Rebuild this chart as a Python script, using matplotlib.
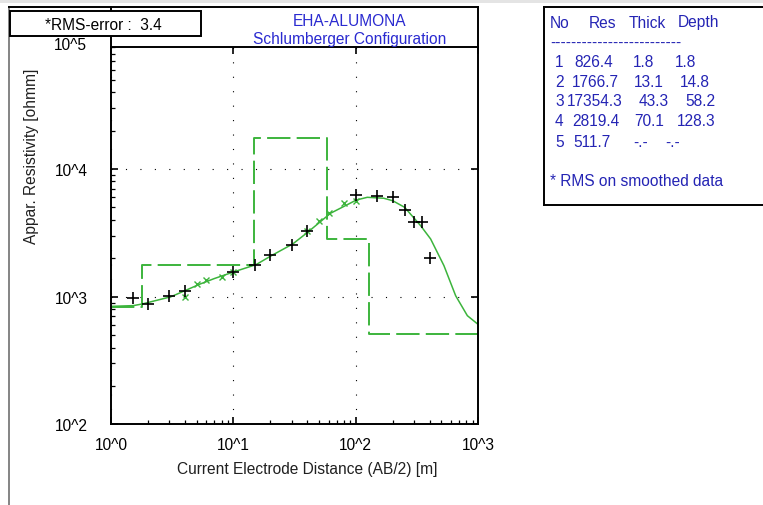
import numpy as np
import matplotlib.pyplot as plt
from matplotlib.lines import Line2D
from matplotlib.patches import Rectangle

plt.rcParams['font.family'] = ['Liberation Sans', 'DejaVu Sans']

W, H = 763, 506
FS = 11.2

# field data (AB/2, apparent resistivity)
ab2 = [1.5, 2, 3, 4, 10, 15, 20, 30, 40, 100, 150, 200, 250, 300, 350, 400]
rho = [977, 877, 1013, 1114, 1571, 1782, 2135, 2553, 3252,
       6295, 6114, 6003, 4753, 3828, 3866, 2011]

# smoothed data
ab2_s = [4, 5, 6, 8, 10, 40, 50, 60, 80, 100]
rho_s = [1000, 1257, 1352, 1435, 1571, 3252, 3892, 4494, 5398, 5636]

# model response curve
ab2_c = [1.0, 1.52, 1.8, 3.1, 5.35, 7, 10.2, 15.3, 20.4, 30.5, 40.4, 62,
         101, 124, 169, 200, 250, 338, 408, 524, 653, 814, 1000]
rho_c = [840, 851, 877, 1000, 1257, 1388, 1571, 1782, 2094, 2587, 3193, 4496,
         5715, 6000, 5900, 5640, 5012, 3597, 2831, 1750, 1018, 710, 605]

# layer model
layer_no = [1, 2, 3, 4, 5]
layer_res = [826.4, 1766.7, 17354.3, 2819.4, 511.7]
layer_thick = [1.8, 13.1, 43.3, 70.1]
layer_depth = [1.8, 14.8, 58.2, 128.3]

green = '#3cb43c'
blue = '#2a2ad0'
navy = '#2424b4'


def fx(x):
    return x / W


def fy(y):
    return 1 - y / H


fig = plt.figure(figsize=(W / 100, H / 100), dpi=100)
ax = fig.add_axes([fx(111), fy(425.4), (478.3 - 111) / W, (425.4 - 48) / H])

ax.set_xscale('log')
ax.set_yscale('log')

step_x = [1.0] + layer_depth + [1000.0]
step_y = layer_res + [layer_res[-1]]
ax.step(step_x, step_y, where='post', color=green, lw=1.4,
        linestyle=(0, (12, 3.2)))
ax.plot(ab2_c, rho_c, color=green, lw=1.1)
ax.plot(ab2_s, rho_s, 'x', color=green, ms=5, mew=1)
ax.plot(ab2, rho, '+', color='black', ms=8, mew=1.2)

ax.set_xlim(1, 1000)
ax.set_ylim(100, 10 ** 4.955)
ax.set_xticks([1, 10, 100, 1000])
ax.set_xticklabels(['10^0', '10^1', '10^2', '10^3'])
ax.set_yticks([100, 1000, 10000])
ax.set_yticklabels(['10^2', '10^3', '10^4'])
ax.tick_params(which='major', direction='in', length=5, width=1.2,
               top=True, right=True, labelsize=FS, colors='black')
ax.tick_params(axis='x', which='major', pad=9)
ax.tick_params(axis='y', which='major', pad=17)
ax.tick_params(which='minor', direction='in', length=2.8, width=0.9,
               top=False, right=False)
ax.grid(which='major', color='black', linestyle=(0, (1, 12)), lw=0.8)
for s in ax.spines.values():
    s.set_linewidth(1.4)

fig.text(fx(87), fy(45), '10^5', ha='right', va='center', fontsize=FS)
fig.text(fx(307), fy(470), 'Current Electrode Distance (AB/2) [m]',
         ha='center', va='center', fontsize=FS, color='#202020')
fig.text(fx(32), fy(156), 'Appar. Resistivity [ohmm]', rotation=90,
         ha='center', va='center', fontsize=FS, color='#202020')

# frame lines
fig.add_artist(Rectangle((0, fy(4)), 1, 4 / H, transform=fig.transFigure,
                         color='#e4e4e4', lw=0))
fig.add_artist(Line2D([fx(9), fx(9)], [fy(8), 0], color='#707070', lw=1.2))
fig.add_artist(Line2D([fx(9), fx(478.3)], [fy(8), fy(8)], color='black', lw=1.4))
fig.add_artist(Line2D([fx(111), fx(111)], [fy(8), fy(48)], color='black', lw=1.4))
fig.add_artist(Line2D([fx(478.3), fx(478.3)], [fy(8), fy(48)], color='black', lw=1.4))

# RMS box
fig.add_artist(Rectangle((fx(10), fy(37)), 191 / W, 25 / H,
                         transform=fig.transFigure, facecolor='white',
                         edgecolor='black', lw=1.4, zorder=5))
fig.text(fx(45), fy(25), '*RMS-error :  3.4', ha='left', va='center',
         fontsize=FS, zorder=6)

# title
fig.text(fx(350), fy(21), 'EHA-ALUMONA', ha='center', va='center',
         fontsize=FS, color=blue)
fig.text(fx(350), fy(39.5), 'Schlumberger Configuration', ha='center',
         va='center', fontsize=FS, color=blue)

# layer table box
fig.add_artist(Line2D([fx(544), 1], [fy(8), fy(8)], color='black', lw=1.4))
fig.add_artist(Line2D([fx(544), 1], [fy(206), fy(206)], color='black', lw=1.4))
fig.add_artist(Line2D([fx(544), fx(544)], [fy(8), fy(206)], color='black', lw=1.4))

tk = dict(ha='left', va='center', fontsize=FS, color=navy)
fig.text(fx(550), fy(23), 'No', **tk)
fig.text(fx(589), fy(23), 'Res', **tk)
fig.text(fx(629), fy(23), 'Thick', **tk)
fig.text(fx(678), fy(23), 'Depth', **tk)
fig.text(fx(550), fy(43), '-' * 25, **tk)

row_y = [63, 83, 102, 122, 143]
res_x = [574, 572, 567, 572, 573]
thick_x = [633, 634, 639, 634, 633]
depth_x = [675, 680, 685, 677, 665]
for i in range(len(layer_no)):
    y = fy(row_y[i])
    fig.text(fx(555), y, str(layer_no[i]), **tk)
    fig.text(fx(res_x[i]), y, '%.1f' % layer_res[i], **tk)
    if i < len(layer_thick):
        fig.text(fx(thick_x[i]), y, '%.1f' % layer_thick[i], **tk)
        fig.text(fx(depth_x[i]), y, '%.1f' % layer_depth[i], **tk)
    else:
        fig.text(fx(thick_x[i]), y, '-.-', **tk)
        fig.text(fx(depth_x[i]), y, '-.-', **tk)
fig.text(fx(550), fy(182), '* RMS on smoothed data', **tk)

fig.savefig('out.png', dpi=100)
